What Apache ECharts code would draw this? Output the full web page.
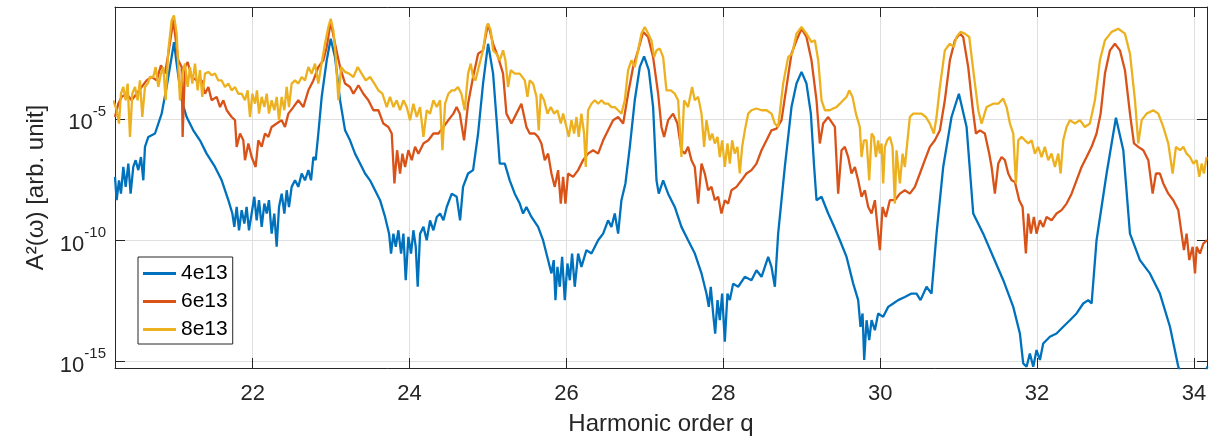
<!DOCTYPE html>
<html>
<head>
<meta charset="utf-8">
<title>A^2(w) vs harmonic order</title>
<script src="https://cdn.jsdelivr.net/npm/echarts@6/dist/echarts.min.js"></script>
<style>
  html, body { margin: 0; padding: 0; background: #fff; }
  #main { width: 1213px; height: 441px; }
</style>
</head>
<body>
<div id="main"></div>
<script>
// values are [harmonic order q, log10 A^2]
const s4e13 = [
  [20.245,-7.38],[20.266,-8.34],[20.296,-7.52],[20.321,-8.07],[20.351,-6.97],[20.381,-7.79],[20.415,-6.83],[20.444,-8.07],
  [20.478,-6.97],[20.508,-6.69],[20.542,-7.1],[20.576,-6.56],[20.606,-7.52],[20.627,-6.14],[20.67,-5.73],[20.755,-5.59],
  [20.84,-4.77],[20.903,-3.67],[20.967,-2.44],[20.997,-1.82],[21.031,-2.71],[21.095,-4.22],[21.158,-4.91],[21.243,-5.46],
  [21.328,-5.87],[21.413,-6.42],[21.52,-6.97],[21.605,-7.52],[21.69,-8.34],[21.741,-8.89],[21.766,-9.44],[21.796,-8.62],
  [21.826,-9.58],[21.86,-8.75],[21.894,-9.3],[21.923,-8.62],[21.953,-9.58],[21.987,-8.89],[22.021,-8.2],[22.051,-9.17],
  [22.081,-8.34],[22.115,-9.44],[22.149,-8.48],[22.179,-8.89],[22.208,-8.34],[22.242,-9.72],[22.276,-8.89],[22.306,-10.26],
  [22.336,-8.62],[22.37,-8.07],[22.404,-8.89],[22.434,-7.93],[22.463,-8.62],[22.497,-7.79],[22.54,-7.52],[22.582,-7.79],
  [22.625,-7.24],[22.667,-7.52],[22.71,-7.1],[22.744,-7.52],[22.774,-6.56],[22.803,-6.69],[22.837,-5.59],[22.88,-4.08],
  [22.944,-2.57],[22.995,-1.68],[23.05,-2.44],[23.114,-4.22],[23.178,-5.46],[23.241,-5.87],[23.305,-6.42],[23.369,-6.83],
  [23.433,-7.24],[23.496,-7.52],[23.56,-7.93],[23.624,-8.34],[23.688,-9.03],[23.739,-9.72],[23.764,-10.54],[23.794,-9.72],
  [23.824,-10.26],[23.858,-9.58],[23.892,-10.54],[23.922,-9.72],[23.951,-11.64],[23.985,-9.85],[24.019,-10.54],[24.049,-9.58],
  [24.079,-10.26],[24.104,-11.91],[24.134,-9.72],[24.177,-9.44],[24.219,-9.99],[24.261,-9.17],[24.304,-9.58],[24.347,-9.03],
  [24.389,-8.89],[24.432,-9.17],[24.474,-8.62],[24.538,-8.07],[24.601,-8.2],[24.644,-9.17],[24.682,-7.79],[24.746,-7.24],
  [24.81,-7.1],[24.874,-5.59],[24.937,-3.53],[25.001,-1.89],[25.065,-3.12],[25.107,-4.91],[25.15,-6.83],[25.214,-6.83],
  [25.277,-7.52],[25.341,-8.07],[25.405,-8.48],[25.447,-8.89],[25.49,-8.62],[25.554,-9.03],[25.639,-9.44],[25.702,-9.99],
  [25.766,-10.81],[25.809,-11.36],[25.838,-10.81],[25.86,-12.46],[25.885,-11.09],[25.915,-11.91],[25.945,-10.68],[25.979,-12.46],
  [26.013,-10.95],[26.043,-11.64],[26.072,-10.54],[26.106,-11.91],[26.149,-10.54],[26.191,-11.09],[26.255,-10.4],[26.319,-10.54],
  [26.404,-9.99],[26.468,-9.72],[26.531,-9.17],[26.574,-9.44],[26.616,-8.89],[26.659,-9.72],[26.701,-8.34],[26.752,-7.65],
  [26.808,-6.14],[26.871,-4.22],[26.935,-2.85],[26.99,-2.41],[27.05,-2.98],[27.105,-4.5],[27.148,-7.52],[27.177,-8.07],
  [27.233,-7.52],[27.296,-8.07],[27.381,-8.62],[27.466,-9.44],[27.551,-9.99],[27.637,-10.54],[27.722,-11.36],[27.785,-12.19],
  [27.815,-12.74],[27.84,-11.91],[27.87,-13.01],[27.896,-13.84],[27.926,-12.46],[27.955,-13.29],[27.985,-12.19],[28.019,-14.18],
  [28.053,-12.19],[28.083,-12.46],[28.125,-11.78],[28.189,-11.91],[28.274,-11.5],[28.359,-11.64],[28.423,-11.23],[28.487,-11.5],
  [28.572,-10.68],[28.614,-11.09],[28.657,-11.91],[28.699,-9.72],[28.784,-6.97],[28.869,-4.5],[28.933,-3.53],[28.997,-3.05],
  [29.06,-3.53],[29.116,-4.77],[29.158,-6.97],[29.188,-8.34],[29.252,-8.2],[29.337,-8.89],[29.422,-9.5],[29.486,-9.99],
  [29.571,-10.68],[29.656,-11.78],[29.719,-12.46],[29.749,-13.56],[29.775,-13.01],[29.796,-14.93],[29.826,-13.29],[29.86,-14.11],
  [29.89,-13.29],[29.932,-13.7],[29.974,-13.01],[30.038,-13.15],[30.102,-12.74],[30.166,-12.6],[30.229,-12.46],[30.314,-12.33],
  [30.399,-12.19],[30.463,-12.19],[30.514,-12.46],[30.591,-11.91],[30.654,-12.19],[30.718,-9.72],[30.803,-6.97],[30.909,-4.91],
  [31.003,-3.95],[31.101,-5.32],[31.186,-8.89],[31.313,-9.72],[31.441,-10.68],[31.569,-11.64],[31.696,-12.74],[31.781,-13.84],
  [31.823,-15.07],[31.866,-15.21],[31.908,-14.66],[31.951,-15.21],[31.993,-14.52],[32.036,-14.93],[32.078,-14.25],[32.163,-13.97],
  [32.248,-13.84],[32.333,-13.56],[32.418,-13.29],[32.503,-13.01],[32.588,-12.6],[32.652,-12.46],[32.695,-12.6],[32.758,-9.99],
  [32.886,-7.24],[33.005,-4.94],[33.099,-6.28],[33.184,-9.72],[33.311,-10.81],[33.438,-11.36],[33.566,-12.19],[33.694,-13.56],
  [33.8,-15.21],[33.95,-16.2],[34.1,-16.0],[34.17,-15.2]
];

const s6e13 = [
  [20.245,-4.91],[20.287,-4.36],[20.33,-4.08],[20.393,-3.95],[20.457,-4.22],[20.521,-3.95],[20.585,-3.67],[20.648,-3.4],
  [20.712,-3.26],[20.776,-3.4],[20.831,-2.78],[20.882,-3.12],[20.925,-2.3],[20.988,-0.92],[21.052,-2.57],[21.095,-2.85],
  [21.107,-5.73],[21.137,-2.85],[21.171,-2.64],[21.222,-3.26],[21.286,-3.4],[21.35,-3.4],[21.392,-3.95],[21.435,-3.67],
  [21.477,-4.22],[21.541,-4.08],[21.584,-4.5],[21.626,-4.22],[21.669,-4.63],[21.732,-4.91],[21.775,-5.04],[21.796,-6.14],
  [21.839,-5.59],[21.881,-5.87],[21.902,-6.69],[21.945,-6.0],[21.987,-6.56],[22.038,-6.97],[22.072,-5.87],[22.115,-6.14],
  [22.157,-5.59],[22.2,-5.73],[22.242,-5.32],[22.306,-5.18],[22.37,-5.04],[22.412,-5.32],[22.455,-4.77],[22.519,-4.5],
  [22.582,-4.22],[22.646,-4.5],[22.71,-3.81],[22.774,-3.4],[22.837,-2.85],[22.901,-2.57],[22.944,-2.02],[22.995,-0.99],
  [23.05,-1.89],[23.114,-2.85],[23.178,-3.53],[23.241,-3.67],[23.284,-3.95],[23.348,-3.6],[23.411,-3.95],[23.475,-4.22],
  [23.539,-4.63],[23.603,-4.63],[23.666,-5.18],[23.73,-5.32],[23.773,-5.59],[23.807,-7.65],[23.841,-6.28],[23.879,-7.24],
  [23.909,-6.42],[23.943,-6.97],[23.985,-6.28],[24.028,-6.69],[24.07,-6.14],[24.113,-6.42],[24.177,-6.0],[24.24,-5.87],
  [24.304,-5.59],[24.368,-5.59],[24.432,-5.32],[24.495,-5.04],[24.559,-4.77],[24.6,-4.5],[24.64,-4.77],[24.695,-5.87],
  [24.746,-4.36],[24.81,-3.26],[24.874,-2.3],[24.937,-2.16],[25.001,-1.06],[25.065,-1.89],[25.129,-2.44],[25.192,-3.12],
  [25.235,-4.77],[25.299,-5.18],[25.362,-4.77],[25.426,-4.36],[25.49,-5.32],[25.532,-5.59],[25.596,-5.59],[25.639,-5.73],
  [25.681,-6.0],[25.724,-6.69],[25.766,-6.42],[25.809,-7.24],[25.851,-7.79],[25.894,-7.1],[25.928,-8.48],[25.958,-7.38],
  [25.987,-8.48],[26.021,-7.24],[26.085,-7.38],[26.149,-7.1],[26.212,-6.69],[26.276,-6.42],[26.34,-6.28],[26.404,-6.42],
  [26.468,-5.87],[26.531,-5.46],[26.595,-5.04],[26.659,-4.91],[26.723,-5.18],[26.786,-3.95],[26.85,-2.85],[26.914,-2.16],
  [26.978,-1.4],[27.041,-1.61],[27.105,-2.44],[27.169,-3.95],[27.211,-5.32],[27.245,-5.73],[27.296,-5.04],[27.36,-4.77],
  [27.415,-5.18],[27.466,-6.28],[27.509,-6.42],[27.551,-6.14],[27.594,-6.69],[27.636,-6.97],[27.679,-8.48],[27.722,-6.83],
  [27.764,-7.24],[27.807,-7.93],[27.849,-7.79],[27.892,-8.34],[27.934,-8.2],[27.976,-8.89],[28.019,-8.34],[28.061,-8.48],
  [28.104,-7.93],[28.168,-7.79],[28.232,-7.52],[28.295,-7.24],[28.359,-7.1],[28.423,-6.83],[28.487,-6.28],[28.551,-5.87],
  [28.614,-5.46],[28.678,-5.39],[28.742,-5.04],[28.805,-3.67],[28.869,-2.3],[28.933,-1.75],[28.997,-1.27],[29.06,-1.61],
  [29.124,-2.57],[29.188,-4.22],[29.23,-6.0],[29.273,-5.18],[29.337,-4.91],[29.358,-4.84],[29.422,-5.32],[29.464,-8.07],
  [29.507,-6.28],[29.549,-6.14],[29.592,-6.56],[29.634,-7.24],[29.677,-6.97],[29.719,-7.52],[29.762,-8.2],[29.804,-7.93],
  [29.847,-8.62],[29.89,-8.89],[29.932,-8.34],[29.974,-9.72],[29.996,-10.4],[30.03,-8.62],[30.072,-9.03],[30.123,-8.34],
  [30.187,-8.34],[30.251,-8.07],[30.314,-7.93],[30.378,-8.07],[30.442,-7.79],[30.506,-7.24],[30.569,-6.69],[30.633,-6.14],
  [30.697,-5.87],[30.761,-5.46],[30.824,-4.22],[30.888,-2.57],[30.952,-1.75],[31.016,-1.47],[31.058,-1.61],[31.122,-2.85],
  [31.177,-4.5],[31.22,-5.59],[31.271,-5.46],[31.334,-5.59],[31.39,-6.42],[31.42,-6.97],[31.462,-8.07],[31.505,-6.83],
  [31.547,-6.56],[31.59,-6.69],[31.632,-7.24],[31.675,-7.52],[31.717,-7.59],[31.772,-8.34],[31.815,-8.62],[31.857,-10.54],
  [31.887,-8.89],[31.921,-9.72],[31.959,-9.03],[31.993,-9.72],[32.036,-9.17],[32.078,-9.44],[32.121,-9.03],[32.185,-9.17],
  [32.248,-8.89],[32.312,-8.75],[32.376,-8.48],[32.44,-8.07],[32.503,-7.52],[32.567,-6.97],[32.631,-6.56],[32.695,-6.14],
  [32.758,-5.59],[32.81,-4.77],[32.865,-3.12],[32.929,-2.16],[32.992,-1.89],[33.056,-2.16],[33.12,-2.98],[33.184,-4.77],
  [33.235,-6.0],[33.29,-6.14],[33.354,-6.28],[33.418,-6.69],[33.473,-8.07],[33.515,-7.24],[33.566,-7.24],[33.609,-7.65],
  [33.673,-8.07],[33.736,-8.34],[33.8,-8.75],[33.842,-9.72],[33.872,-10.4],[33.906,-9.72],[33.94,-10.81],[33.983,-10.26],
  [34.013,-11.36],[34.034,-10.26],[34.076,-10.54],[34.119,-10.13],[34.166,-9.99]
];

const s8e13 = [
  [20.223,-4.22],[20.266,-4.63],[20.296,-5.18],[20.321,-3.95],[20.351,-3.67],[20.381,-4.22],[20.406,-3.53],[20.436,-5.73],
  [20.466,-3.95],[20.5,-3.67],[20.534,-4.22],[20.563,-3.4],[20.593,-4.91],[20.627,-3.67],[20.661,-3.53],[20.691,-3.26],
  [20.733,-3.26],[20.763,-2.85],[20.797,-3.67],[20.831,-3.12],[20.861,-2.85],[20.891,-4.22],[20.925,-2.16],[20.967,-0.92],
  [20.997,-0.72],[21.031,-1.47],[21.052,-2.85],[21.073,-4.22],[21.103,-3.12],[21.137,-2.71],[21.171,-3.67],[21.201,-2.85],
  [21.231,-3.53],[21.265,-2.71],[21.299,-3.81],[21.328,-2.98],[21.358,-4.08],[21.392,-3.12],[21.435,-3.05],[21.477,-3.19],
  [21.52,-3.12],[21.562,-3.4],[21.605,-3.4],[21.647,-3.67],[21.69,-3.53],[21.732,-3.81],[21.775,-3.67],[21.817,-3.95],
  [21.86,-3.95],[21.902,-4.22],[21.936,-3.81],[21.966,-4.91],[21.996,-3.95],[22.03,-4.36],[22.055,-3.81],[22.081,-4.77],
  [22.115,-4.08],[22.149,-4.5],[22.179,-3.95],[22.208,-4.77],[22.242,-4.22],[22.276,-4.63],[22.306,-4.08],[22.336,-5.04],
  [22.37,-4.08],[22.404,-4.63],[22.434,-3.67],[22.463,-4.5],[22.497,-3.53],[22.54,-3.4],[22.582,-3.53],[22.625,-3.26],
  [22.667,-3.4],[22.71,-2.85],[22.752,-3.12],[22.795,-2.71],[22.837,-3.53],[22.871,-2.85],[22.922,-1.89],[22.965,-1.2],
  [22.995,-0.86],[23.029,-1.34],[23.059,-2.44],[23.093,-4.22],[23.127,-2.85],[23.178,-3.05],[23.229,-3.12],[23.284,-3.26],
  [23.339,-2.85],[23.39,-3.12],[23.441,-3.4],[23.496,-3.26],[23.552,-3.53],[23.603,-3.81],[23.654,-3.95],[23.709,-4.5],
  [23.751,-4.08],[23.794,-4.5],[23.836,-4.22],[23.879,-4.63],[23.922,-4.22],[23.964,-4.5],[24.006,-5.04],[24.049,-4.36],
  [24.091,-4.91],[24.134,-4.5],[24.177,-5.73],[24.219,-4.63],[24.261,-4.77],[24.304,-4.22],[24.347,-4.5],[24.389,-4.22],
  [24.419,-6.28],[24.453,-4.36],[24.495,-3.95],[24.538,-3.81],[24.576,-3.81],[24.618,-3.67],[24.661,-3.95],[24.703,-4.63],
  [24.746,-3.12],[24.78,-2.71],[24.81,-3.26],[24.84,-3.4],[24.882,-2.85],[24.937,-2.16],[24.98,-1.2],[25.001,-1.06],
  [25.035,-1.34],[25.065,-2.16],[25.107,-2.3],[25.15,-2.57],[25.192,-2.16],[25.222,-2.57],[25.256,-3.67],[25.29,-2.98],
  [25.341,-3.12],[25.405,-3.12],[25.469,-3.4],[25.503,-4.08],[25.532,-3.4],[25.575,-3.53],[25.618,-4.08],[25.647,-5.46],
  [25.673,-3.95],[25.715,-4.22],[25.758,-4.77],[25.8,-4.5],[25.843,-4.77],[25.885,-4.63],[25.928,-5.18],[25.958,-4.77],
  [26.0,-5.32],[26.03,-5.73],[26.064,-5.04],[26.098,-5.59],[26.128,-4.91],[26.157,-5.73],[26.191,-4.77],[26.225,-5.59],
  [26.246,-6.97],[26.276,-4.63],[26.319,-4.36],[26.361,-4.22],[26.404,-4.36],[26.446,-4.22],[26.489,-4.36],[26.531,-4.36],
  [26.574,-4.5],[26.616,-4.5],[26.659,-4.63],[26.701,-4.77],[26.744,-4.22],[26.786,-2.98],[26.829,-2.57],[26.871,-2.85],
  [26.914,-2.16],[26.956,-1.47],[26.999,-1.2],[27.041,-1.47],[27.084,-1.75],[27.118,-2.44],[27.148,-2.16],[27.19,-2.09],
  [27.233,-2.44],[27.275,-3.81],[27.33,-3.81],[27.381,-3.95],[27.424,-4.22],[27.466,-6.56],[27.5,-4.22],[27.551,-4.5],
  [27.602,-3.67],[27.636,-4.22],[27.679,-4.08],[27.722,-4.77],[27.755,-6.14],[27.785,-5.04],[27.828,-5.87],[27.858,-5.59],
  [27.892,-6.0],[27.926,-5.73],[27.955,-6.56],[27.985,-5.87],[28.019,-6.97],[28.053,-6.0],[28.083,-6.83],[28.113,-5.87],
  [28.146,-6.42],[28.18,-6.14],[28.21,-7.24],[28.24,-6.14],[28.274,-5.46],[28.317,-4.77],[28.359,-4.63],[28.423,-4.56],
  [28.487,-4.63],[28.551,-4.63],[28.614,-4.77],[28.657,-5.18],[28.699,-5.32],[28.763,-3.53],[28.827,-2.44],[28.878,-2.3],
  [28.933,-1.47],[28.997,-1.2],[29.06,-1.47],[29.124,-1.82],[29.167,-1.75],[29.21,-2.57],[29.252,-4.22],[29.294,-4.63],
  [29.358,-4.63],[29.4,-4.56],[29.443,-4.5],[29.486,-4.36],[29.528,-4.22],[29.571,-4.08],[29.605,-3.81],[29.647,-4.08],
  [29.69,-4.77],[29.74,-5.32],[29.762,-6.56],[29.792,-5.87],[29.826,-5.87],[29.86,-7.52],[29.89,-5.59],[29.919,-5.73],
  [29.945,-6.56],[29.974,-5.87],[29.996,-6.42],[30.017,-6.0],[30.038,-7.65],[30.059,-6.14],[30.089,-5.87],[30.123,-5.73],
  [30.157,-6.14],[30.187,-8.48],[30.208,-6.28],[30.229,-6.97],[30.251,-7.65],[30.285,-6.42],[30.314,-6.97],[30.344,-6.0],
  [30.378,-4.91],[30.421,-4.77],[30.472,-4.77],[30.527,-4.77],[30.582,-4.91],[30.633,-5.18],[30.684,-5.59],[30.718,-4.91],
  [30.761,-3.67],[30.824,-2.16],[30.888,-1.89],[30.939,-2.02],[30.973,-1.61],[31.024,-1.4],[31.079,-1.47],[31.135,-1.61],
  [31.186,-2.98],[31.25,-4.63],[31.292,-5.18],[31.356,-4.5],[31.441,-4.36],[31.505,-4.36],[31.568,-4.15],[31.611,-4.5],
  [31.654,-5.18],[31.696,-5.59],[31.73,-7.65],[31.76,-5.87],[31.802,-5.73],[31.845,-5.87],[31.887,-6.0],[31.93,-5.87],
  [31.972,-6.42],[32.014,-6.14],[32.057,-6.56],[32.099,-6.14],[32.142,-6.69],[32.184,-6.42],[32.227,-6.97],[32.27,-6.42],
  [32.3,-7.24],[32.333,-5.87],[32.376,-5.32],[32.418,-5.04],[32.482,-5.18],[32.546,-5.04],[32.61,-5.32],[32.673,-5.18],
  [32.737,-4.22],[32.801,-2.57],[32.865,-1.75],[32.95,-1.4],[33.035,-1.27],[33.12,-1.47],[33.184,-2.3],[33.248,-4.22],
  [33.29,-6.0],[33.333,-5.04],[33.396,-4.77],[33.481,-4.63],[33.545,-4.77],[33.609,-5.32],[33.672,-6.0],[33.728,-7.24],
  [33.77,-6.14],[33.821,-6.28],[33.864,-6.14],[33.906,-6.42],[33.949,-6.56],[33.991,-6.83],[34.034,-6.69],[34.068,-7.38],
  [34.098,-6.83],[34.127,-7.24],[34.161,-6.56]
];

const seriesNames = ['4e13', '6e13', '8e13'];
const xTicks = [22, 24, 26, 28, 30, 32, 34];
const yTicks = [-15, -10, -5];   // exponents of 10

const FONT = '"Liberation Sans", Arial, Helvetica, sans-serif';
const INK = '#262626';
const GRIDC = '#dfdfdf';
const COLORS = ['#0072BD', '#D95319', '#EDB120'];
const X_MIN = 20.245, X_MAX = 34.166;
const Y_MIN = -15.26, Y_MAX = -0.373;

var chart = echarts.init(document.getElementById('main'), null, { renderer: 'canvas' });

// 上下左右都画框线，刻度朝内（仿 MATLAB 的 box on）
function frameAxis(pos, min, max, ticks) {
  return {
    type: 'value', position: pos, min: min, max: max,
    axisLine: { show: true, onZero: false, lineStyle: { color: INK, width: 1 } },
    axisTick: { show: true, inside: true, length: 10, customValues: ticks, lineStyle: { color: INK, width: 1 } },
    axisLabel: { show: false },
    splitLine: { show: false }
  };
}

var seriesList = [s4e13, s6e13, s8e13].map(function (d, i) {
  return {
    name: seriesNames[i],
    type: 'line',
    data: d,
    showSymbol: false,
    symbol: 'none',
    color: COLORS[i],
    lineStyle: { color: COLORS[i], width: 2.3 },
    clip: true,
    z: 2 + i
  };
});

var option = {
  animation: false,
  backgroundColor: '#fff',
  textStyle: { fontFamily: FONT },
  grid: { left: 115, right: 6, top: 7, bottom: 73, containLabel: false },
  legend: {
    data: seriesNames,
    orient: 'vertical',
    left: 138,
    top: 257,
    icon: 'rect',
    backgroundColor: '#fff',
    borderColor: INK,
    borderWidth: 1,
    padding: [6, 5, 4, 5],
    itemGap: 7,
    itemWidth: 33,
    itemHeight: 3,
    textStyle: { fontFamily: FONT, fontSize: 21, color: '#000', lineHeight: 21 }
  },
  xAxis: [
    {
      type: 'value', position: 'bottom', min: X_MIN, max: X_MAX,
      name: 'Harmonic order q', nameLocation: 'middle', nameGap: 44,
      nameTextStyle: { fontFamily: FONT, fontSize: 24, color: INK },
      axisLine: { show: true, onZero: false, lineStyle: { color: INK, width: 1 } },
      axisTick: { show: true, inside: true, length: 10, customValues: xTicks, lineStyle: { color: INK } },
      axisLabel: { customValues: xTicks, fontFamily: FONT, fontSize: 22, color: INK, margin: 15 },
      splitLine: { show: true, lineStyle: { color: GRIDC, width: 1 } }
    },
    frameAxis('top', X_MIN, X_MAX, xTicks)
  ],
  yAxis: [
    {
      type: 'value', position: 'left', min: Y_MIN, max: Y_MAX,
      name: 'A\u00b2(\u03c9) [arb. unit]', nameLocation: 'middle', nameGap: 67, nameRotate: 90,
      nameTextStyle: { fontFamily: FONT, fontSize: 24, color: INK },
      axisLine: { show: true, onZero: false, lineStyle: { color: INK, width: 1 } },
      axisTick: { show: true, inside: true, length: 10, customValues: yTicks, lineStyle: { color: INK } },
      axisLabel: {
        customValues: yTicks,
        margin: 9,
        formatter: function (v) { return '{b|10}{s|' + v + '}'; },
        rich: {
          b: { fontFamily: FONT, fontSize: 22, color: INK, lineHeight: 30, verticalAlign: 'bottom' },
          s: { fontFamily: FONT, fontSize: 15, color: INK, lineHeight: 30, verticalAlign: 'top' }
        }
      },
      splitLine: { show: true, lineStyle: { color: GRIDC, width: 1 } }
    },
    frameAxis('right', Y_MIN, Y_MAX, yTicks)
  ],
  series: seriesList
};

chart.setOption(option);
</script>
</body>
</html>
